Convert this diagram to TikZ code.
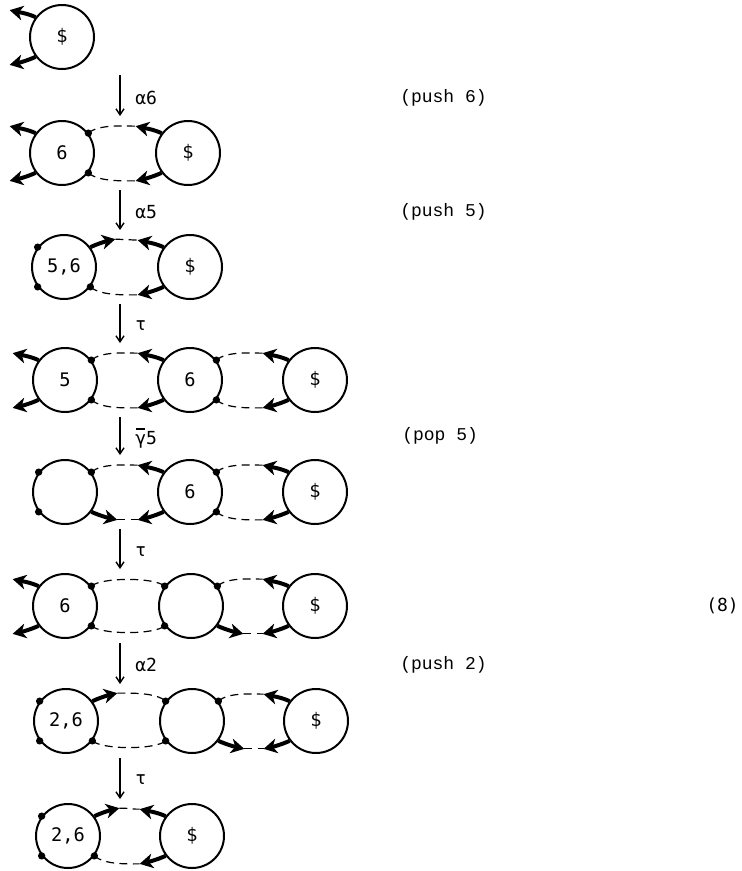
\documentclass[tikz,border=0pt]{standalone}
\usepackage{fontspec}
\newfontfamily\lblfont{DejaVu Sans Mono}
\newfontfamily\notefont{Liberation Mono}
\usetikzlibrary{arrows.meta,calc}
\tikzset{
 cell/.style={circle,draw,line width=1.5pt,minimum size=48pt,inner sep=0pt,font=\lblfont\fontsize{14}{16}\selectfont},
 pdot/.style={circle,fill,inner sep=0pt,minimum size=5.5pt},
 portarr/.style={line width=3pt,-{Stealth[length=10pt,width=11pt,inset=3pt]}},
 link/.style={line width=0.9pt,dash pattern=on 6pt off 4pt},
 trans/.style={line width=1pt,-{Straight Barb[length=4.5pt,width=6pt]}},
 tlabel/.style={anchor=west,inner sep=0pt,font=\lblfont\fontsize{13.5}{15}\selectfont},
 note/.style={anchor=west,inner sep=0pt,font=\notefont\fontsize{13.5}{15}\selectfont},
}
% arrow ports (each defines a tip coordinate <node>-ul etc.)
\newcommand\arrUL[1]{\coordinate (#1-ul) at ($(#1.143)+(-26,-7)$);\draw[portarr] (#1.143) .. controls +(-9,-4) and +(9,2) .. (#1-ul);}
\newcommand\arrLL[1]{\coordinate (#1-ll) at ($(#1.217)+(-26,8)$);\draw[portarr] (#1.217) .. controls +(-9,4) and +(9,-2) .. (#1-ll);}
\newcommand\arrUR[1]{\coordinate (#1-ur) at ($(#1.37)+(25,-8)$);\draw[portarr] (#1.37) .. controls +(9,-4) and +(-9,2) .. (#1-ur);}
\newcommand\arrLR[1]{\coordinate (#1-lr) at ($(#1.323)+(26,8)$);\draw[portarr] (#1.323) .. controls +(9,4) and +(-9,-2) .. (#1-lr);}
% dot ports
\newcommand\dotUL[1]{\node[pdot] (#1-ul) at (#1.143) {};}
\newcommand\dotLL[1]{\node[pdot] (#1-ll) at (#1.217) {};}
\newcommand\dotUR[1]{\node[pdot] (#1-ur) at (#1.37) {};}
\newcommand\dotLR[1]{\node[pdot] (#1-lr) at (#1.323) {};}
\begin{document}
\begin{tikzpicture}[x=0.75pt,y=-0.75pt]
\useasboundingbox (0,0) rectangle (742,871);

% ---------- row 1
\node[cell] (r1a) at (62,37) {\$};
\arrUL{r1a}\arrLL{r1a}

% ---------- row 2
\node[cell] (r2a) at (62,153) {6};
\node[cell] (r2b) at (188,153) {\$};
\arrUL{r2a}\arrLL{r2a}\dotUR{r2a}\dotLR{r2a}
\arrUL{r2b}\arrLL{r2b}
\draw[link] (r2a-ur.center) .. controls +(10,-9) and +(-12,0) .. (r2b-ul.center);
\draw[link] (r2a-lr.center) .. controls +(10,9) and +(-12,0) .. (r2b-ll.center);

% ---------- row 3
\node[cell] (r3a) at (64,267) {5,6};
\node[cell] (r3b) at (190,267) {\$};
\dotUL{r3a}\dotLL{r3a}\arrUR{r3a}\dotLR{r3a}
\arrUL{r3b}\arrLL{r3b}
\draw[link] (r3a-ur.center) .. controls +(12,0) and +(-12,0) .. (r3b-ul.center);
\draw[link] (r3a-lr.center) .. controls +(10,9) and +(-12,0) .. (r3b-ll.center);

% ---------- row 4
\node[cell] (r4a) at (65,380) {5};
\node[cell] (r4b) at (190,380) {6};
\node[cell] (r4c) at (315,380) {\$};
\arrUL{r4a}\arrLL{r4a}\dotUR{r4a}\dotLR{r4a}
\arrUL{r4b}\arrLL{r4b}\dotUR{r4b}\dotLR{r4b}
\arrUL{r4c}\arrLL{r4c}
\draw[link] (r4a-ur.center) .. controls +(10,-9) and +(-12,0) .. (r4b-ul.center);
\draw[link] (r4a-lr.center) .. controls +(10,9) and +(-12,0) .. (r4b-ll.center);
\draw[link] (r4b-ur.center) .. controls +(10,-9) and +(-12,0) .. (r4c-ul.center);
\draw[link] (r4b-lr.center) .. controls +(10,9) and +(-12,0) .. (r4c-ll.center);

% ---------- row 5
\node[cell] (r5a) at (65,492) {};
\node[cell] (r5b) at (190,492) {6};
\node[cell] (r5c) at (315,492) {\$};
\dotUL{r5a}\dotLL{r5a}\dotUR{r5a}\arrLR{r5a}
\arrUL{r5b}\arrLL{r5b}\dotUR{r5b}\dotLR{r5b}
\arrUL{r5c}\arrLL{r5c}
\draw[link] (r5a-ur.center) .. controls +(10,-9) and +(-12,0) .. (r5b-ul.center);
\draw[link] (r5a-lr.center) .. controls +(12,0) and +(-12,0) .. (r5b-ll.center);
\draw[link] (r5b-ur.center) .. controls +(10,-9) and +(-12,0) .. (r5c-ul.center);
\draw[link] (r5b-lr.center) .. controls +(10,9) and +(-12,0) .. (r5c-ll.center);

% ---------- row 6
\node[cell] (r6a) at (65,606) {6};
\node[cell] (r6b) at (191,606) {};
\node[cell] (r6c) at (315,606) {\$};
\arrUL{r6a}\arrLL{r6a}\dotUR{r6a}\dotLR{r6a}
\dotUL{r6b}\dotLL{r6b}\dotUR{r6b}\arrLR{r6b}
\arrUL{r6c}\arrLL{r6c}
\draw[link] (r6a-ur.center) .. controls +(10,-9) and +(-10,-9) .. (r6b-ul.center);
\draw[link] (r6a-lr.center) .. controls +(10,9) and +(-10,9) .. (r6b-ll.center);
\draw[link] (r6b-ur.center) .. controls +(10,-9) and +(-12,0) .. (r6c-ul.center);
\draw[link] (r6b-lr.center) .. controls +(12,0) and +(-12,0) .. (r6c-ll.center);

% ---------- row 7
\node[cell] (r7a) at (66,721) {2,6};
\node[cell] (r7b) at (192,721) {};
\node[cell] (r7c) at (316,721) {\$};
\dotUL{r7a}\dotLL{r7a}\arrUR{r7a}\dotLR{r7a}
\dotUL{r7b}\dotLL{r7b}\dotUR{r7b}\arrLR{r7b}
\arrUL{r7c}\arrLL{r7c}
\draw[link] (r7a-ur.center) .. controls +(12,0) and +(-10,-9) .. (r7b-ul.center);
\draw[link] (r7a-lr.center) .. controls +(10,9) and +(-10,9) .. (r7b-ll.center);
\draw[link] (r7b-ur.center) .. controls +(10,-9) and +(-12,0) .. (r7c-ul.center);
\draw[link] (r7b-lr.center) .. controls +(12,0) and +(-12,0) .. (r7c-ll.center);

% ---------- row 8
\node[cell] (r8a) at (68,836) {2,6};
\node[cell] (r8b) at (192,836) {\$};
\dotUL{r8a}\dotLL{r8a}\arrUR{r8a}\dotLR{r8a}
\arrUL{r8b}\arrLL{r8b}
\draw[link] (r8a-ur.center) .. controls +(12,0) and +(-12,0) .. (r8b-ul.center);
\draw[link] (r8a-lr.center) .. controls +(10,9) and +(-12,0) .. (r8b-ll.center);

% ---------- transitions
\coordinate (t1s) at (120,75);  \coordinate (t1e) at (120,116);
\coordinate (t2s) at (120,190); \coordinate (t2e) at (120,230);
\coordinate (t3s) at (120,304); \coordinate (t3e) at (120,343);
\coordinate (t4s) at (120,417); \coordinate (t4e) at (120,455);
\coordinate (t5s) at (120,529); \coordinate (t5e) at (120,569);
\coordinate (t6s) at (120,643); \coordinate (t6e) at (120,684);
\coordinate (t7s) at (120,758); \coordinate (t7e) at (120,799);
\foreach \i in {1,...,7} {\draw[trans] (t\i s) -- (t\i e);}

\node[tlabel] (l1) at (135,98) {α6};
\node[tlabel] (l2) at (135,212) {α5};
\node[tlabel] (l3) at (135,326) {τ};
\node[tlabel] (l4) at (135,438) {\makebox[0pt][l]{\hspace{0.04em}\raisebox{0.8em}{\rule{0.5em}{0.09em}}}γ5};
\node[tlabel] (l5) at (135,552) {τ};
\node[tlabel] (l6) at (135,665) {α2};
\node[tlabel] (l7) at (135,780) {τ};

\node[note] (n1) at (400,98) {(push 6)};
\node[note] (n2) at (400,212) {(push 5)};
\node[note] (n3) at (402,436) {(pop 5)};
\node[note] (n4) at (400,665) {(push 2)};
\node[tlabel] (eq) at (706,606) {(8)};
\end{tikzpicture}
\end{document}
